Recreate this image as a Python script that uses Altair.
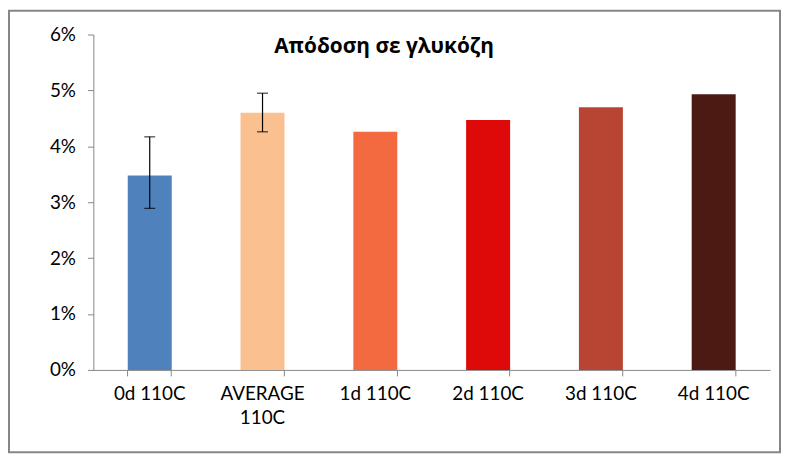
import altair as alt
import pandas as pd

categories = ["0d 110C", "AVERAGE 110C", "1d 110C", "2d 110C", "3d 110C", "4d 110C"]
values = [0.0348, 0.0460, 0.0426, 0.0447, 0.0470, 0.0493]
err_low = [0.0289, 0.0426, None, None, None, None]
err_high = [0.0417, 0.0495, None, None, None, None]
colors = ["#4F81BD", "#FAC090", "#F46A40", "#DE0A0A", "#B84533", "#4D1A13"]
title_text = "Απόδοση σε γλυκόζη"
y_ticks = [0, 0.01, 0.02, 0.03, 0.04, 0.05, 0.06]

df = pd.DataFrame({"cat": categories, "val": values, "lo": err_low, "hi": err_high})

FONT = "Lato"
AX = "#868686"

x_enc = alt.X("cat:N", sort=categories, title=None,
              scale=alt.Scale(paddingInner=0.61, paddingOuter=0.305),
              axis=alt.Axis(labelAngle=0, bandPosition=1, tickExtra=True,
                            domainColor=AX, tickColor=AX, tickSize=6,
                            labelFont=FONT, labelFontSize=19, labelColor="#000",
                            labelPadding=9, labelLineHeight=24,
                            labelExpr="datum.value == 'AVERAGE 110C' ? ['AVERAGE', '110C'] : datum.value"))

base = alt.Chart(df)

bars = base.mark_bar().encode(
    x=x_enc,
    y=alt.Y("val:Q", title=None,
            scale=alt.Scale(domain=[0, 0.06], nice=False),
            axis=alt.Axis(format=".0%", values=y_ticks, grid=False,
                          domainColor=AX, tickColor=AX, tickSize=6,
                          labelFont=FONT, labelFontSize=19, labelColor="#000",
                          labelPadding=12)),
    color=alt.Color("cat:N", sort=categories,
                    scale=alt.Scale(domain=categories, range=colors), legend=None),
)

errs = base.transform_filter("isValid(datum.lo)").mark_rule(color="#000", strokeWidth=1.2).encode(
    x=alt.X("cat:N", sort=categories), y="lo:Q", y2="hi:Q")
cap_lo = base.transform_filter("isValid(datum.lo)").mark_tick(
    color="#000", size=11, thickness=1.3, orient="horizontal").encode(
    x=alt.X("cat:N", sort=categories), y="lo:Q")
cap_hi = base.transform_filter("isValid(datum.lo)").mark_tick(
    color="#000", size=11, thickness=1.3, orient="horizontal").encode(
    x=alt.X("cat:N", sort=categories), y="hi:Q")

one = alt.Chart(pd.DataFrame({"t": [title_text]}))
title = one.mark_text(font="Open Sans", fontSize=21, fontWeight="bold", color="#000",
                      align="center", baseline="alphabetic").encode(
    text="t:N", x=alt.value(293), y=alt.value(19))
frame = one.mark_rect(filled=False, stroke=AX, strokeWidth=2).encode(
    x=alt.value(-85), x2=alt.value(692), y=alt.value(-24), y2=alt.value(421))

chart = alt.layer(bars, errs, cap_lo, cap_hi, title, frame).properties(
    width=682, height=338,
    padding={"left": 86, "top": 25, "right": 11, "bottom": 84},
    autosize=alt.AutoSizeParams(type="none"),
    background="white",
).configure_view(stroke="transparent", strokeWidth=0)

chart.save("out.html", embed_options={"renderer": "svg", "actions": False})
